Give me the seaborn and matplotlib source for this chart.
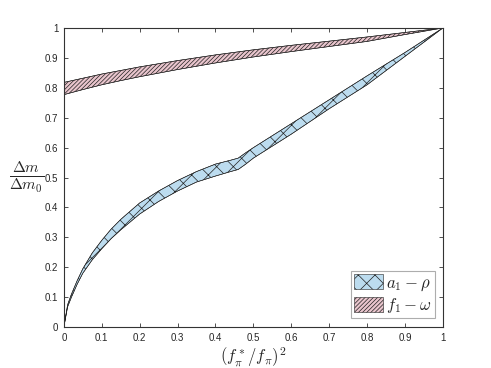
import seaborn as sns
import matplotlib.pyplot as plt
import matplotlib.ticker as mticker
import pandas as pd
import numpy as np

# band data
x_red = [0.0, 0.05, 0.1, 0.15, 0.2, 0.3, 0.4, 0.5, 0.6, 0.7, 0.8, 0.9, 1.0]
red_upper = [0.818, 0.832, 0.846, 0.858, 0.870, 0.891, 0.910, 0.927, 0.942, 0.956, 0.970, 0.985, 1.0]
red_lower = [0.777, 0.794, 0.810, 0.824, 0.837, 0.861, 0.883, 0.903, 0.921, 0.938, 0.955, 0.978, 1.0]

x_blue = [0.0, 0.01, 0.02, 0.035, 0.05, 0.075, 0.1, 0.125, 0.15, 0.2, 0.25, 0.3, 0.35,
          0.4, 0.44, 0.46, 0.48, 0.5, 0.6, 0.7, 0.8, 0.9, 1.0]
blue_upper = [0.0, 0.075, 0.11, 0.155, 0.195, 0.248, 0.29, 0.328, 0.36, 0.415, 0.455, 0.49,
              0.52, 0.545, 0.558, 0.565, 0.583, 0.60, 0.68, 0.76, 0.84, 0.918, 1.0]
blue_lower = [0.0, 0.068, 0.10, 0.143, 0.18, 0.225, 0.262, 0.296, 0.325, 0.378, 0.42, 0.455,
              0.485, 0.505, 0.52, 0.527, 0.545, 0.565, 0.645, 0.73, 0.81, 0.905, 1.0]

ticks = [0, 0.1, 0.2, 0.3, 0.4, 0.5, 0.6, 0.7, 0.8, 0.9, 1]

df_red = pd.DataFrame({'x': x_red, 'upper': red_upper, 'lower': red_lower})
df_blue = pd.DataFrame({'x': x_blue, 'upper': blue_upper, 'lower': blue_lower})

sns.set_style('ticks')
plt.rcParams['mathtext.fontset'] = 'cm'
plt.rcParams['hatch.linewidth'] = 0.5
plt.rcParams['font.family'] = ['Liberation Sans', 'DejaVu Sans']

fig, ax = plt.subplots(figsize=(4.91, 3.68), dpi=100)
fig.subplots_adjust(left=0.130, right=0.902, top=0.924, bottom=0.111)

# blue band a1 - rho
ax.fill_between(df_blue['x'], df_blue['lower'], df_blue['upper'], facecolor='#bcdcef',
                edgecolor='#222222', hatch='xx', linewidth=0.4, label=r'$a_1-\rho$')
sns.lineplot(x='x', y='upper', data=df_blue, ax=ax, color='#222222', linewidth=0.4, legend=False)
sns.lineplot(x='x', y='lower', data=df_blue, ax=ax, color='#222222', linewidth=0.4, legend=False)

# red band f1 - omega
ax.fill_between(df_red['x'], df_red['lower'], df_red['upper'], facecolor='#e9c5cd',
                edgecolor='#222222', hatch='////////', linewidth=0.4, label=r'$f_1-\omega$')
sns.lineplot(x='x', y='upper', data=df_red, ax=ax, color='#222222', linewidth=0.4, legend=False)
sns.lineplot(x='x', y='lower', data=df_red, ax=ax, color='#222222', linewidth=0.4, legend=False)

ax.set_xlim(0, 1)
ax.set_ylim(0, 1)
ax.set_xticks(ticks)
ax.set_yticks(ticks)
ax.xaxis.set_major_formatter(mticker.FormatStrFormatter('%g'))
ax.yaxis.set_major_formatter(mticker.FormatStrFormatter('%g'))
ax.tick_params(direction='in', top=True, right=True, labeltop=False, labelright=False,
               labelsize=7, length=3, width=0.6, color='#333333', pad=4)
for s in ax.spines.values():
    s.set_linewidth(0.8)
    s.set_color('#333333')

ax.set_xlabel(r'$(f_\pi^*/f_\pi)^2$', fontsize=12, labelpad=2)
ax.set_ylabel(r'$\frac{\Delta m}{\Delta m_0}$', fontsize=16, rotation=0, labelpad=13, va='center')

leg = ax.legend(loc='lower right', bbox_to_anchor=(0.98, 0.03), fontsize=12, frameon=True,
                fancybox=False, edgecolor='#999999', handlelength=1.7, handleheight=1.0,
                handletextpad=0.2, borderpad=0.2, labelspacing=0.2, borderaxespad=0)
leg.get_frame().set_linewidth(0.8)

fig.savefig('out.png', dpi=100)
